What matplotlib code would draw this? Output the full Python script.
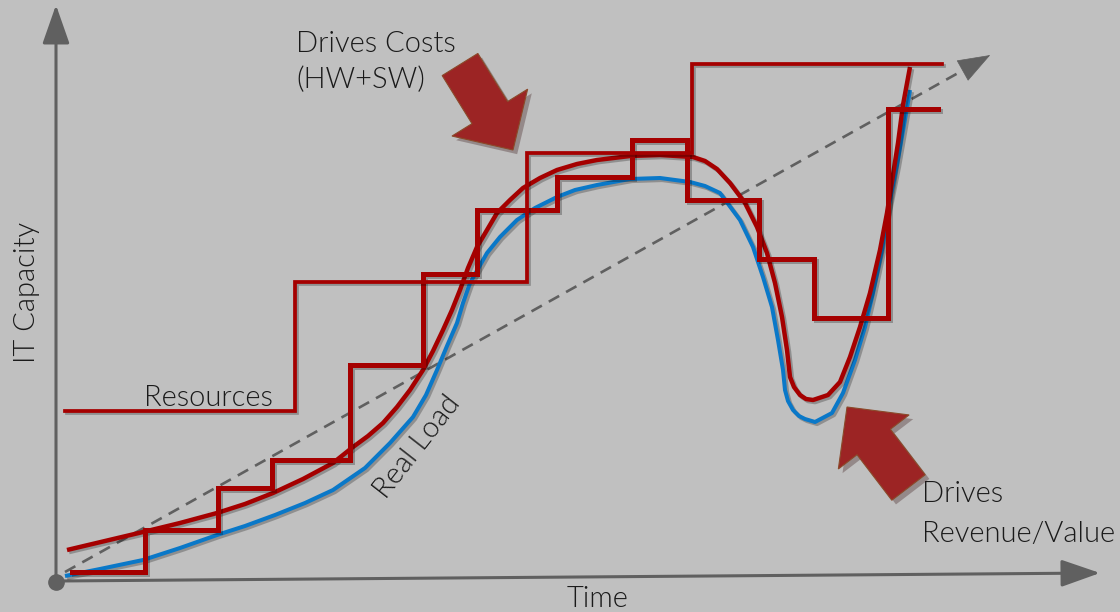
import numpy as np
import matplotlib
matplotlib.use("Agg")
import matplotlib.pyplot as plt
import matplotlib.patheffects as pe
from matplotlib.patches import FancyArrow

# ----------------------------
# datos (tiempo, capacidad)
# ----------------------------
LOAD_T = [8, 43, 86, 123, 160, 188, 218, 248, 276, 308, 333, 356, 369, 380, 390, 400,
          406, 413, 430, 443, 460, 478, 500, 518, 540, 573, 603, 633, 648, 663, 683,
          696, 706, 715, 721, 726, 728, 731, 736, 742, 748, 758, 775, 786, 798, 808,
          816, 825, 831, 840, 847, 853]
LOAD_C = [4, 11, 20, 32, 45, 54, 65, 77, 90, 112, 137, 163, 185, 210, 234, 257,
          277, 297, 327, 343, 360, 372, 383, 390, 395, 401, 402, 398, 394, 387, 360,
          333, 303, 273, 240, 210, 190, 179, 170, 164, 161, 158, 167, 187, 220, 253,
          287, 330, 370, 415, 455, 490]

CAP_T = [10, 48, 86, 123, 160, 188, 216, 246, 276, 296, 311, 326, 340, 353, 366, 376,
         386, 395, 403, 411, 420, 430, 440, 453, 466, 483, 500, 520, 540, 573, 603,
         636, 648, 660, 673, 688, 700, 710, 718, 725, 730, 733, 737, 743, 749, 756,
         771, 783, 793, 803, 813, 823, 830, 836, 841, 846, 853]
CAP_C = [30, 39, 48, 57, 67, 76, 87, 101, 117, 133, 144, 157, 173, 190, 210, 229,
         250, 270, 290, 312, 333, 350, 367, 380, 392, 402, 410, 416, 420, 424, 425,
         423, 419, 411, 397, 377, 353, 327, 297, 263, 230, 203, 193, 185, 181, 180,
         185, 198, 223, 253, 287, 330, 367, 405, 437, 475, 513]

# escalones finos (elastico)
FINE_EDGES = [15, 88, 161, 215, 293, 366, 420, 500, 575, 630, 702, 757, 831, 881]
FINE_LEVELS = [8, 50, 92, 120, 215, 306, 370, 403, 440, 380, 321, 262, 471]

# escalones gruesos (recursos)
RES_EDGES = [8, 238, 470, 635, 885]
RES_LEVELS = [169, 298, 427, 516]

TREND_T = [8, 928]
TREND_C = [8, 522]

RED = "#a50000"
BLUE = "#0a78c8"
AXIS = "#606060"
ARROW = "#9c2424"
BG = "#c0c0c0"
TXT = "#1a1a1a"

plt.rcParams["font.family"] = ["Lato", "DejaVu Sans"]

fig = plt.figure(figsize=(11.2, 6.12), dpi=100, facecolor=BG)
ax = fig.add_axes([0, 0, 1, 1])
ax.set_facecolor(BG)
ax.set_xlim(-57, 1063)
ax.set_ylim(-32, 580)
ax.axis("off")

sombra = [pe.SimpleLineShadow(offset=(1.5, -1.5), alpha=0.25), pe.Normal()]

# ejes con flecha
flecha = dict(arrowstyle="-|>,head_length=1.2,head_width=0.42", mutation_scale=20,
              lw=2.2, color=AXIS, shrinkA=0, shrinkB=0)
ax.annotate("", xy=(-1, 575), xytext=(-1, -2), arrowprops=flecha)
ax.annotate("", xy=(1043, 7), xytext=(0, -1), arrowprops=flecha)
ax.plot([-1], [-2], "o", color=AXIS, ms=11, zorder=5)

# tendencia
ax.plot(TREND_T, TREND_C, color=AXIS, lw=1.9, linestyle=(0, (4.5, 3)))
u = np.array([TREND_T[1] - TREND_T[0], TREND_C[1] - TREND_C[0]], dtype=float)
u /= np.hypot(*u)
punta = np.array([TREND_T[1], TREND_C[1]])
ax.annotate("", xy=punta + u * 6, xytext=punta - u * 20,
            arrowprops=dict(arrowstyle="-|>,head_length=1.1,head_width=0.4",
                            mutation_scale=20, lw=0.5, color=AXIS, shrinkA=0, shrinkB=0))

# curvas
ax.plot(LOAD_T, LOAD_C, color=BLUE, lw=2.9, solid_capstyle="butt", solid_joinstyle="round",
        path_effects=sombra, zorder=3)
ax.plot(CAP_T, CAP_C, color=RED, lw=3.2, solid_capstyle="butt", solid_joinstyle="round",
        path_effects=sombra, zorder=4)
ax.plot(FINE_EDGES, np.append(FINE_LEVELS, FINE_LEVELS[-1]), drawstyle="steps-post",
        color=RED, lw=3.6, solid_joinstyle="miter", path_effects=sombra, zorder=4)
ax.plot(RES_EDGES, np.append(RES_LEVELS, RES_LEVELS[-1]), drawstyle="steps-post",
        color=RED, lw=2.7, solid_joinstyle="miter", path_effects=sombra, zorder=4)

# flechas grandes
sombra_p = [pe.SimplePatchShadow(offset=(3, -3), alpha=0.3), pe.Normal()]
for x0, y0, dx, dy in [(403, 515.5, 53, -85.5), (851.5, 92.5, -61.5, 80.5)]:
    a = FancyArrow(x0, y0, dx, dy, width=42, head_width=89, head_length=44,
                   length_includes_head=True, facecolor=ARROW, edgecolor="#8a4a2a",
                   lw=0.8, zorder=6)
    a.set_path_effects(sombra_p)
    ax.add_patch(a)

# textos
fs = 21
kw = dict(color=TXT, fontsize=fs, fontweight=300)
ax.text(239, 528, "Drives Costs", ha="left", va="baseline", **kw)
ax.text(239, 492, "(HW+SW)", ha="left", va="baseline", **kw)
ax.text(87, 174, "Resources", ha="left", va="baseline", **kw)
ax.text(865, 78, "Drives", ha="left", va="baseline", **kw)
ax.text(865, 38, "Revenue/Value", ha="left", va="baseline", **kw)
ax.text(360, 133, "Real Load", ha="center", va="center", rotation=52, **kw)
ax.text(541, -27, "Time", ha="center", va="baseline", **kw)
ax.text(-30, 288, "IT Capacity", ha="center", va="center", rotation=90, **kw)

fig.savefig("out.png", dpi=100, facecolor=BG)
